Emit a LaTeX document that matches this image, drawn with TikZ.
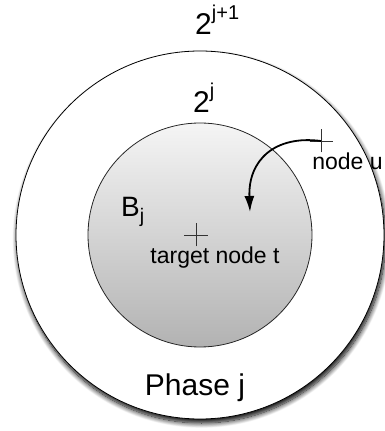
\documentclass[tikz,border=0pt]{standalone}
\usepackage{fontspec}
\setmainfont{Liberation Sans}
\usetikzlibrary{arrows.meta,shadows.blur}
\newcommand{\supj}[1]{\raisebox{15pt}{\fontsize{20}{20}\selectfont #1}}
\tikzset{
    ring/.style={shape=circle,draw=black,line width=0.8pt,inner sep=0pt},
    outer ring/.style={ring,fill=white,minimum size=368pt,
        blur shadow={shadow xshift=1.5pt,shadow yshift=-4pt,shadow blur radius=5pt,shadow blur steps=12,shadow opacity=100}},
    ball/.style={ring,draw=black!85,minimum size=224pt,top color=black!4,bottom color=black!30},
    big label/.style={font=\fontsize{30}{32}\selectfont,inner sep=0pt},
    small label/.style={font=\fontsize{23}{25}\selectfont,inner sep=0pt},
    plus/.style={line width=0.5pt,black!80}
}

\begin{document}
\begin{tikzpicture}[x=1pt,y=1pt,>={Latex[length=16pt,width=10pt]}]
    \useasboundingbox (-200,-196) rectangle (185,235);
    \node[outer ring] (phase) at (0,0) {};
    \node[ball] (B) at (0,0) {};

    \node[big label, anchor=base west] (r2) at (-5,200) {2\supj{j+1}};
    \node[big label, anchor=base west] (r1) at (-7,122) {2\supj{j}};
    \node[big label, anchor=base west, font=\fontsize{28}{30}\selectfont] (Bj) at (-79,18) {B\textsubscript{j}};

    \coordinate (t) at (-4,0);
    \draw[plus] (t) +(-11.5,0) -- +(11.5,0) (t) +(0,-11.5) -- +(0,11.5);
    \node[small label, anchor=base] (tlabel) at (15,-28) {target node t};

    \coordinate (u) at (121,94);
    \draw[plus] (u) +(-11.5,0) -- +(11.5,0) (u) +(0,-11.5) -- +(0,11.5);
    \node[small label, anchor=base] (ulabel) at (147.5,65) {node u};

    \coordinate (tip) at (50,23);
    \draw[->, line width=1.8pt] (u) .. controls (75,100) and (48,75) .. (tip);

    \node[big label, anchor=base] (pj) at (-5,-160) {Phase j};
\end{tikzpicture}
\end{document}
